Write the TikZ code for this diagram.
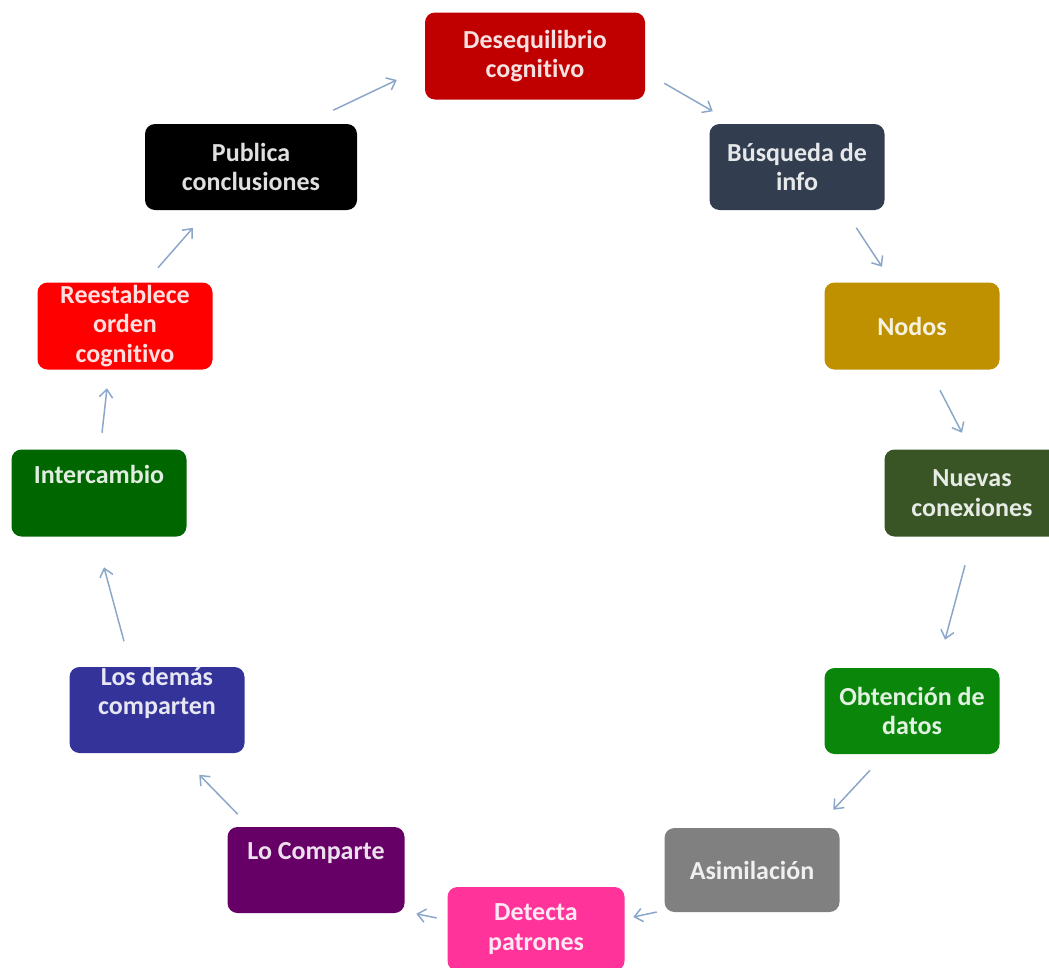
\documentclass[tikz,border=0pt]{standalone}
\usepackage{fontspec}
\setmainfont{Carlito}[Ligatures=NoCommon]
\usetikzlibrary{arrows.meta,positioning}
\definecolor{Crimson}{HTML}{C00000}
\definecolor{Slate}{HTML}{323E4F}
\definecolor{Gold}{HTML}{BF9000}
\definecolor{Olive}{HTML}{3A5525}
\definecolor{Leaf}{HTML}{0A870A}
\definecolor{Ash}{HTML}{808080}
\definecolor{Pink}{HTML}{FF3399}
\definecolor{Plum}{HTML}{660066}
\definecolor{Navy}{HTML}{333399}
\definecolor{Forest}{HTML}{006600}
\definecolor{Scarlet}{HTML}{FF0000}
\definecolor{Ink}{HTML}{000000}
\definecolor{Flow}{HTML}{8AA6C8}
\tikzset{
  >={Straight Barb[length=6pt,width=10pt]},
  box/.style={rectangle,rounded corners=7.5pt,minimum width=131.25pt,minimum height=64.5pt,inner xsep=2pt,inner ysep=0pt,align=center,font=\bfseries\fontsize{19.5}{22}\selectfont},
  tone/.style={fill=#1,text=#1!12!white},
  flow/.style={->,draw=Flow,line width=1.1pt}
}
\begin{document}
\begin{tikzpicture}[x=0.75pt,y=-0.75pt]
  \clip (0,0) rectangle (1049,967);
  \fill[white] (0,0) rectangle (1049,967);
  % the cycle
  \node[box,tone=Crimson,minimum width=165pt,minimum height=65.25pt] (des) at (535,56) {Desequilibrio\\cognitivo};
  \node[box,tone=Slate] (bus) at (797,167) {Búsqueda de\\info};
  \node[box,tone=Gold,minimum height=65.25pt] (nod) at (912,326) {Nodos};
  \node[box,tone=Olive,minimum height=65.25pt] (nue) at (972,493) {Nuevas\\conexiones};
  \node[box,tone=Leaf] (obt) at (912,711) {Obtención de\\datos};
  \node[box,tone=Ash,minimum height=63pt] (asi) at (752,870) {Asimilación};
  \node[box,tone=Pink,minimum width=132.75pt,minimum height=63pt] (det) at (536,929) {Detecta\\patrones};
  \node[box,tone=Plum,minimum width=132.75pt] (loc) at (316,870) {Lo Comparte\\\strut};
  \node[box,tone=Navy] (los) at (157,710) {Los demás\\comparten\\\strut};
  \node[box,tone=Forest,minimum height=65.25pt] (int) at (99,493) {Intercambio\\\strut};
  \node[box,tone=Scarlet,minimum height=65.25pt] (ree) at (125,326) {Reestablece\\orden\\cognitivo};
  \node[box,tone=Ink,minimum width=159pt] (pub) at (251,167) {Publica\\conclusiones};
  % arrows
  \draw[flow] ([shift={(19,-16.5)}]des.south east) -- ([shift={(3.5,-12.5)}]bus.north west);
  \draw[flow] ([shift={(-28.5,17.5)}]bus.south east) -- ([shift={(-30,-15.5)}]nod.north);
  \draw[flow] ([shift={(28,20.5)}]nod.south) -- ([shift={(-10,-16.5)}]nue.north);
  \draw[flow] ([shift={(-7,28.5)}]nue.south) -- ([shift={(33,-28)}]obt.north);
  \draw[flow] ([shift={(-42,16)}]obt.south) -- ([shift={(-6.5,-18)}]asi.north east);
  \draw[flow] ([shift={(-7.5,42)}]asi.west) -- ([shift={(8.5,-12)}]det.east);
  \draw[flow] ([shift={(-10.5,-11)}]det.west) -- ([shift={(11.5,0.5)}]loc.south east);
  \draw[flow] ([shift={(10.5,-12.5)}]loc.north west) -- ([shift={(-45.5,21.5)}]los.south east);
  \draw[flow] ([shift={(-33,-25.5)}]los.north) -- ([shift={(5,30.5)}]int.south);
  \draw[flow] ([shift={(3,-16.5)}]int.north) -- ([shift={(-18,18.5)}]ree.south);
  \draw[flow] ([shift={(33,-14.5)}]ree.north) -- ([shift={(-58,17.5)}]pub.south);
  \draw[flow] ([shift={(-24,-13.5)}]pub.north east) -- ([shift={(-28,24)}]des.west);
\end{tikzpicture}
\end{document}
